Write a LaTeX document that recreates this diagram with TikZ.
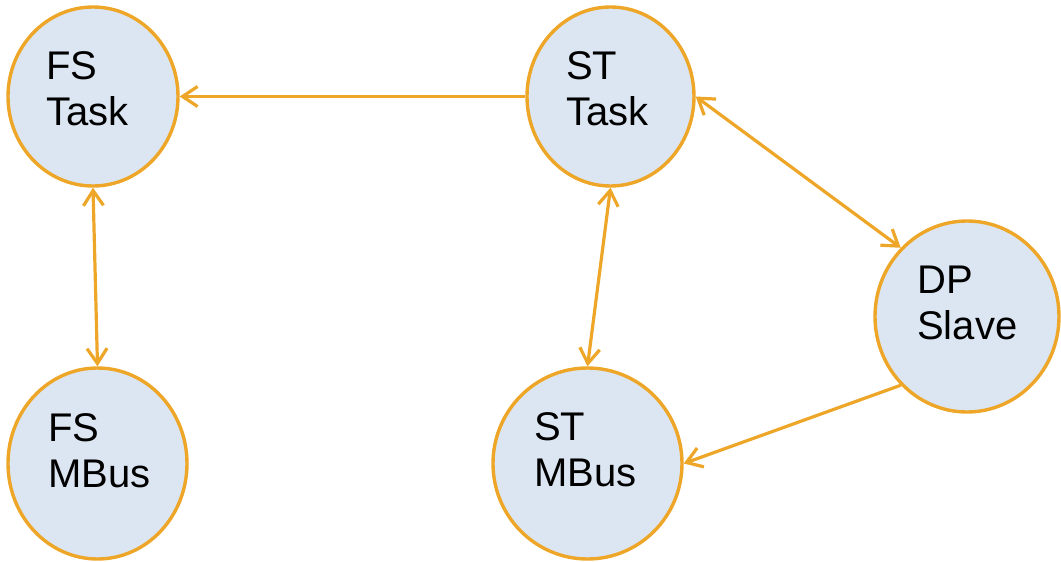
\documentclass[tikz,border=0pt]{standalone}
\usepackage{fontspec}
\setmainfont{Liberation Sans}
\usetikzlibrary{shapes.geometric,arrows.meta}
\definecolor{linkorange}{RGB}{238,166,40}
\definecolor{bubblefill}{RGB}{220,230,242}
\tikzset{
  bubble/.style={ellipse, draw=linkorange, fill=bubblefill, line width=3.4pt, inner sep=0pt},
  caption/.style={anchor=base west, inner sep=0pt, align=left,
    font=\fontsize{40}{46.5}\selectfont},
  link/.style={draw=linkorange, line width=3.2pt,
    arrows={-Straight Barb[length=15pt,width=20pt]}},
  dlink/.style={link, arrows={Straight Barb[length=15pt,width=20pt]-Straight Barb[length=15pt,width=20pt]}}
}
\begin{document}
\begin{tikzpicture}[x=1pt,y=-1pt]
  \useasboundingbox (0,0) rectangle (1061,562);

  % task and bus bubbles
  \node[bubble, minimum width=170pt, minimum height=179pt] (fstask) at (93,96.5) {};
  \node[bubble, minimum width=167pt, minimum height=179pt] (sttask) at (610.5,96.5) {};
  \node[bubble, minimum width=184pt, minimum height=191pt] (dpslave) at (967,316.5) {};
  \node[bubble, minimum width=189pt, minimum height=191pt] (stmbus) at (587.5,463.5) {};
  \node[bubble, minimum width=179pt, minimum height=191pt] (fsmbus) at (97.5,463.5) {};

  % labels inside the bubbles (anchored at the baseline of the second line)
  \node[caption] (fstaskt) at (45.8,125.5) {FS\\Task};
  \node[caption] (sttaskt) at (566,125.5) {ST\\Task};
  \node[caption] (dpslavet) at (917,339.5) {DP\\Slave};
  \node[caption] (stmbust) at (534,486.5) {ST\\MBus};
  \node[caption] (fsmbust) at (48,487.5) {FS\\MBus};

  % connectors
  \draw[link] (sttask.west) -- (fstask.east);
  \draw[dlink] (fstask.south) -- (fsmbus.north);
  \draw[dlink] (sttask.south) -- (stmbus.north);
  \draw[dlink] (sttask.east) -- (dpslave.north west);
  \draw[link] (dpslave.south west) -- (stmbus.east);
\end{tikzpicture}
\end{document}
